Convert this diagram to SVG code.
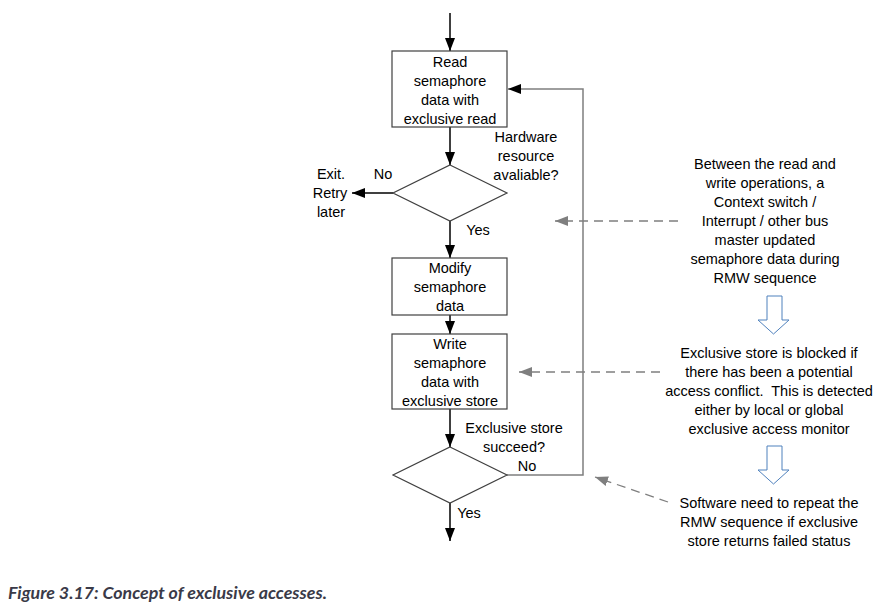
<svg xmlns="http://www.w3.org/2000/svg" width="882" height="611" viewBox="0 0 882 611">
<style>
.t{font-family:"Liberation Sans",Arial,sans-serif;font-size:14.5px;fill:#000;text-anchor:middle}
.box{fill:#fff;stroke:#404040;stroke-width:1.2}
.flow{fill:none;stroke:#000;stroke-width:1.5}
.loop{fill:none;stroke:#7f7f7f;stroke-width:1.5}
.dash{fill:none;stroke:#7f7f7f;stroke-width:1.3;stroke-dasharray:9,6}
.blk{fill:#fff;stroke:#4f81bd;stroke-width:1}
.cap{font-family:Lato,"Open Sans",sans-serif;font-weight:bold;font-style:italic;font-size:17.8px;fill:#3a3a48}
</style>
<defs>
<marker id="ah" markerUnits="userSpaceOnUse" markerWidth="14" markerHeight="12" refX="13" refY="5" orient="auto">
<path d="M0,0 L13,5 L0,10 Z" fill="#000"/>
</marker>
<marker id="ahg" markerUnits="userSpaceOnUse" markerWidth="14" markerHeight="12" refX="13" refY="5" orient="auto">
<path d="M0,0 L13,5 L0,10 Z" fill="#7f7f7f"/>
</marker>
</defs>
<g id="connectors">
<line class="flow" x1="450" y1="13" x2="450" y2="51" marker-end="url(#ah)"/>
<line class="flow" x1="450" y1="127" x2="450" y2="165" marker-end="url(#ah)"/>
<line class="flow" x1="393" y1="193" x2="352" y2="193" marker-end="url(#ah)"/>
<line class="flow" x1="450" y1="221" x2="450" y2="258" marker-end="url(#ah)"/>
<line class="flow" x1="450" y1="315" x2="450" y2="334" marker-end="url(#ah)"/>
<line class="flow" x1="450" y1="409" x2="450" y2="447" marker-end="url(#ah)"/>
<line class="flow" x1="450" y1="503" x2="450" y2="541" marker-end="url(#ah)"/>
<polyline class="loop" points="507,475 583,475 583,89 508,89" marker-end="url(#ah)"/>
<line class="dash" x1="678" y1="221" x2="555" y2="221" marker-end="url(#ahg)"/>
<line class="dash" x1="660" y1="372" x2="519" y2="372" marker-end="url(#ahg)"/>
<line class="dash" x1="668" y1="502" x2="595" y2="477" marker-end="url(#ahg)"/>
</g>
<g id="read">
<rect class="box" x="392" y="51" width="115" height="76"/>
<text class="t" x="450" y="66.5">Read</text>
<text class="t" x="450" y="85.5">semaphore</text>
<text class="t" x="450" y="104.5">data with</text>
<text class="t" x="450" y="123.5">exclusive read</text>
</g>
<g id="hw-decision">
<polygon class="box" points="450,165 507,193 450,221 393,193"/>
<text class="t" x="526" y="142">Hardware</text>
<text class="t" x="526" y="161">resource</text>
<text class="t" x="526" y="180">avaliable?</text>
<text class="t" x="383" y="179">No</text>
<text class="t" x="478" y="235">Yes</text>
</g>
<g id="exit">
<text class="t" x="331" y="179">Exit.</text>
<text class="t" x="330" y="198">Retry</text>
<text class="t" x="331" y="217">later</text>
</g>
<g id="modify">
<rect class="box" x="392" y="258" width="115" height="57"/>
<text class="t" x="450" y="273">Modify</text>
<text class="t" x="450" y="292">semaphore</text>
<text class="t" x="450" y="311">data</text>
</g>
<g id="write">
<rect class="box" x="392" y="334" width="115" height="75"/>
<text class="t" x="450" y="348.5">Write</text>
<text class="t" x="450" y="367.5">semaphore</text>
<text class="t" x="450" y="386.5">data with</text>
<text class="t" x="450" y="405.5">exclusive store</text>
</g>
<g id="store-decision">
<polygon class="box" points="450,447 507,475 450,503 393,475"/>
<text class="t" x="514" y="433">Exclusive store</text>
<text class="t" x="514" y="452">succeed?</text>
<text class="t" x="527" y="471">No</text>
<text class="t" x="469" y="518">Yes</text>
</g>
<g id="note1">
<text class="t" x="765" y="169">Between the read and</text>
<text class="t" x="765" y="188">write operations, a</text>
<text class="t" x="765" y="207">Context switch /</text>
<text class="t" x="765" y="226">Interrupt / other bus</text>
<text class="t" x="765" y="245">master updated</text>
<text class="t" x="765" y="264">semaphore data during</text>
<text class="t" x="765" y="283">RMW sequence</text>
</g>
<g id="down1">
<path class="blk" d="M767,296 H782 V320 H789 L773.5,334 L758,320 H767 Z"/>
</g>
<g id="note2">
<text class="t" x="769" y="358">Exclusive store is blocked if</text>
<text class="t" x="769" y="377">there has been a potential</text>
<text class="t" x="769" y="396" xml:space="preserve">access conflict.  This is detected</text>
<text class="t" x="769" y="415">either by local or global</text>
<text class="t" x="769" y="434">exclusive access monitor</text>
</g>
<g id="down2">
<path class="blk" d="M767,446 H782 V470 H789 L773.5,484 L758,470 H767 Z"/>
</g>
<g id="note3">
<text class="t" x="769" y="508">Software need to repeat the</text>
<text class="t" x="769" y="527">RMW sequence if exclusive</text>
<text class="t" x="769" y="546">store returns failed status</text>
</g>
<g id="caption">
<text class="cap" x="8" y="599">Figure 3.17: Concept of exclusive accesses.</text>
</g>
</svg>
